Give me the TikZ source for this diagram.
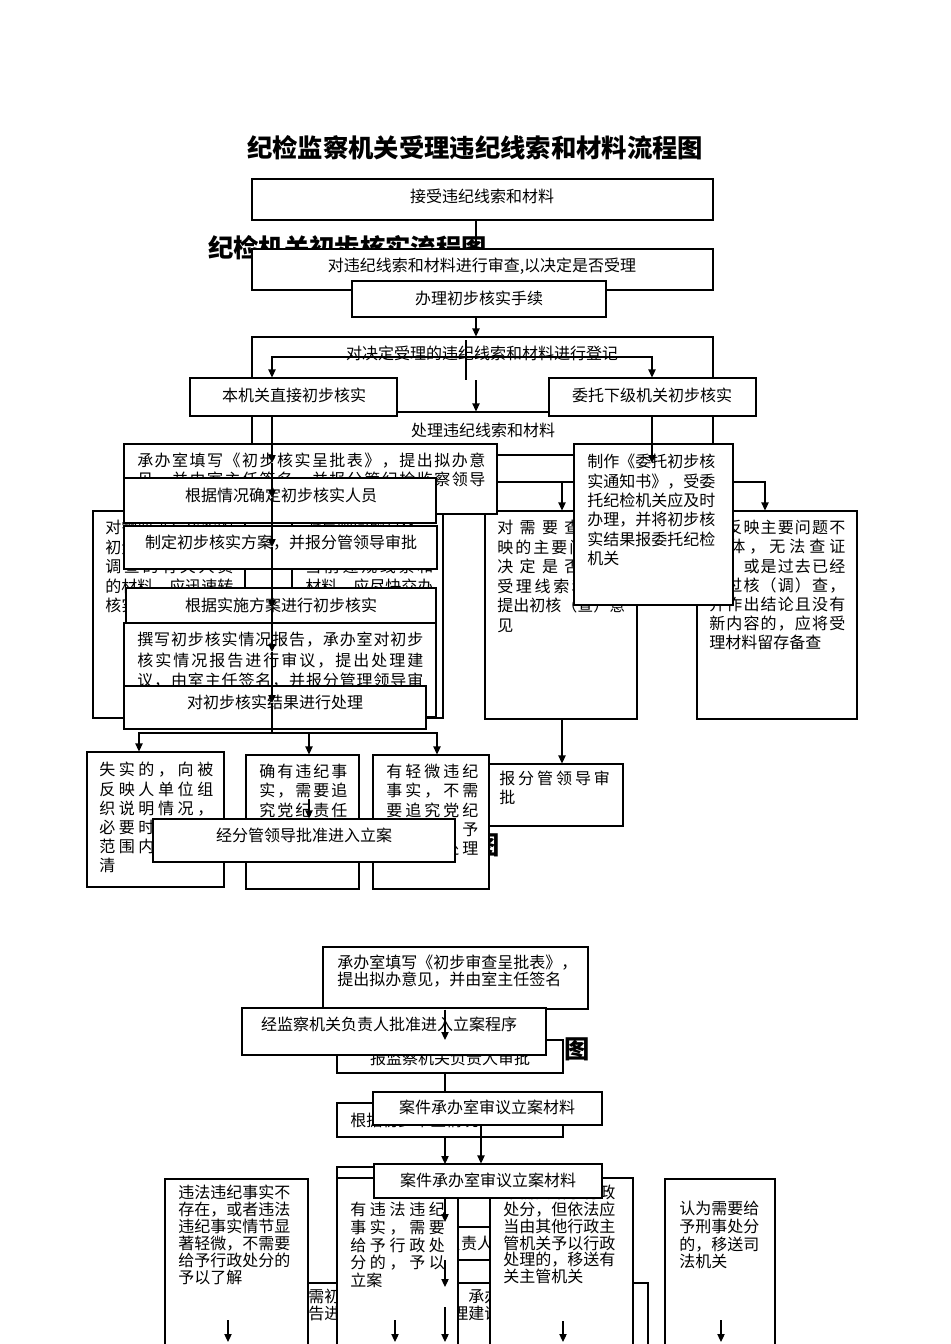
\documentclass[tikz,border=0pt]{standalone}
\usepackage{fontspec}
\setmainfont{Noto Sans CJK SC}
\usetikzlibrary{arrows.meta,fit}
\newcommand\JL[2]{\hbox to #1{\JLa#2\relax}}
\def\JLa#1{#1\JLb}
\def\JLb#1{\ifx\relax#1\else\hfil#1\expandafter\JLb\fi}
\tikzset{
  bx/.style={draw, fill=white, line width=0.8pt, inner sep=0pt},
  tx/.style={inner sep=0pt, font=\fontsize{12}{14.5}\selectfont, align=left},
  ttl/.style={inner sep=0pt, font=\fontsize{19}{19}\selectfont\bfseries},
  ln/.style={line width=0.8pt},
  arr/.style={line width=0.8pt, -{Triangle[length=6pt,width=5.5pt]}}
}
\begin{document}
\begin{tikzpicture}[x=0.75pt,y=-0.75pt]
\useasboundingbox (0,0) rectangle (950,1344);
\clip (0,0) rectangle (950,1344);
\fill[white] (0,0) rectangle (950,1344);
% helper x coordinates
\coordinate (x139) at (139,0); \coordinate (x272) at (272,0);
\coordinate (x309) at (309,0); \coordinate (x437) at (437,0);
\coordinate (x445) at (445,0); \coordinate (x476) at (476,0);
\coordinate (x481) at (481,0); \coordinate (x562) at (562,0);
\coordinate (x652) at (652,0); \coordinate (x765) at (765,0);
% titles
\node[ttl] (t1) at (475,148) {纪检监察机关受理违纪线索和材料流程图};
\node[ttl, anchor=west] (t2) at (208,248) {纪检机关初步核实流程图};
% top chain
\node[bx, fit={(252,179)(713,220)}] (b1) {};
\node[tx] (b1t) at (482,196) {接受违纪线索和材料};
\node[bx, fit={(252,249)(713,290)}] (b2) {};
\node[tx] (b2t) at (482,266) {对违纪线索和材料进行审查,以决定是否受理};
\draw[ln] (b1.south -| x476) -- (b2.north -| x476);
\node[bx, fit={(352,281)(606,317)}] (b3) {};
\node[tx] (b3t) at (479,298) {办理初步核实手续};
\node[bx, fit={(252,337)(713,412)}] (b4) {};
\node[tx] (b4t) at (482,353) {对决定受理的违纪线索和材料进行登记};
\node[bx, fit={(252,412)(713,455)}] (b5) {};
\node[tx] (b5t) at (483,430) {处理违纪线索和材料};
\draw[arr] (b3.south -| x476) -- (b4.north -| x476);
\node[bx, fit={(190,378)(397,416)}] (b6) {};
\node[tx] (b6t) at (294,395) {本机关直接初步核实};
\node[bx, fit={(549,378)(756,416)}] (b7) {};
\node[tx] (b7t) at (652,395) {委托下级机关初步核实};
\coordinate (j0) at (466,340); \coordinate (j1) at (466,357);
\coordinate (j2) at (466,380); \coordinate (j3) at (476,380);
\draw[ln] (j0) -- (j2);
\draw[arr] (j1) -| (x272 |- b6.north);
\draw[arr] (j1) -| (x652 |- b7.north);
\draw[arr] (j3) -- (x476 |- b5.north);
% big background boxes
\node[bx, fit={(93,511)(245,718)}] (l1) {};
\node[tx, anchor=north west, font=\fontsize{12}{14.6}\selectfont] (l1t) at (105,520)
  {\JL{96pt}{对需要进行核实的}\\\JL{96pt}{初步核实问题，须}\\\JL{96pt}{调查的有关人员}\\\JL{96pt}{的材料，应迅速转}\\核实};
\node[bx, fit={(292,512)(443,718)}] (l2) {};
\node[tx, anchor=north west, font=\fontsize{12}{14.6}\selectfont] (l2t) at (305,520)
  {\JL{96pt}{对反映问题具体，}\\\JL{96pt}{需要初步核实的}\\\JL{96pt}{当前违规线索和}\\\JL{96pt}{材料，应尽快交办}\\理};
\node[bx, fit={(485,511)(637,719)}] (bn) {};
\node[tx, anchor=north west, font=\fontsize{12}{14.6}\selectfont] (bnt) at (497,520)
  {\JL{96pt}{对需要查证反}\\\JL{93pt}{映的主要问题，}\\\JL{96pt}{决定是否立案}\\\JL{96pt}{受理线索和材料}\\\JL{96pt}{提出初核（查）意}\\见};
\node[bx, fit={(697,511)(857,719)}] (bf) {};
\node[tx, anchor=north west, font=\fontsize{12}{14.4}\selectfont] (bft) at (709,520)
  {\JL{102pt}{对反映主要问题不}\\\JL{102pt}{具体，无法查证}\\\JL{102pt}{的，或是过去已经}\\\JL{102pt}{经过核（调）查，}\\\JL{102pt}{并作出结论且没有}\\\JL{102pt}{新内容的，应将受}\\理材料留存备查};
\coordinate (j4) at (497,482);
\draw[arr] (j4) -| (x562 |- bn.north);
\draw[arr] (j4) -| (x765 |- bf.north);
% left chain
\node[bx, fit={(124,444)(497,514)}] (bc) {};
\node[tx, anchor=north west, font=\fontsize{12}{14.25}\selectfont] (bct) at (137,453)
  {\JL{261pt}{承办室填写《初步核实呈批表》，提出拟办意}\\\JL{261pt}{见，并由室主任签名，并报分管纪检监察领导}};
\node[bx, fit={(124,478)(436,523)}] (bg) {};
\node[tx] (bgt) at (281,495) {根据情况确定初步核实人员};
\node[bx, fit={(124,526)(437,569)}] (bd) {};
\node[tx] (bdt) at (281,543) {制定初步核实方案，并报分管领导审批};
\node[bx, fit={(126,588)(436,623)}] (bs) {};
\node[tx] (bst) at (281,605) {根据实施方案进行初步核实};
\node[bx, fit={(124,623)(436,717)}] (bw) {};
\node[tx, anchor=north west, font=\fontsize{12}{15.4}\selectfont] (bwt) at (137,632)
  {\JL{214.5pt}{撰写初步核实情况报告，承办室对初步}\\\JL{214.5pt}{核实情况报告进行审议，提出处理建}\\\JL{214.5pt}{议，由室主任签名，并报分管理领导审}\\批};
\node[bx, fit={(124,686)(426,729)}] (br) {};
\node[tx] (brt) at (275,702) {对初步核实结果进行处理};
\coordinate (c1) at (272,463); \coordinate (c2) at (272,498);
\coordinate (c3) at (272,547); \coordinate (c4) at (272,608);
\coordinate (c5) at (272,652); \coordinate (c6) at (272,703);
\coordinate (j5) at (272,733);
\draw[arr] (b6.south -| x272) -- (c1);
\draw[arr] (c1) -- (c2);
\draw[arr] (c2) -- (c3);
\draw[arr] (c3) -- (c4);
\draw[arr] (c4) -- (c5);
\draw[arr] (c5) -- (c6);
\draw[ln] (c6) -- (j5);
% entrusted
\node[bx, fit={(574,444)(733,605)}] (bz) {};
\node[tx, anchor=north west, font=\fontsize{12}{14.5}\selectfont] (bzt) at (587,454)
  {制作《委托初步核\\实通知书》，受委\\托纪检机关应及时\\办理，并将初步核\\实结果报委托纪检\\机关};
\coordinate (c7) at (652,463);
\draw[arr] (b7.south -| x652) -- (c7);
% results row
\node[ttl] (t3) at (487,845) {图};
\node[bx, fit={(87,752)(224,887)}] (r1) {};
\node[tx, anchor=north west, font=\fontsize{12}{14.4}\selectfont] (r1t) at (99,762)
  {\JL{85.5pt}{失实的，向被}\\\JL{85.5pt}{反映人单位组}\\\JL{85.5pt}{织说明情况，}\\\JL{85.5pt}{必要时在一定}\\\JL{85.5pt}{范围内予以澄}\\清};
\node[bx, fit={(246,755)(359,889)}] (r2) {};
\node[tx, anchor=north west, font=\fontsize{12}{14.4}\selectfont] (r2t) at (259,764)
  {\JL{66pt}{确有违纪事}\\\JL{66pt}{实，需要追}\\\JL{66pt}{究党纪责任}\\\JL{66pt}{的，予以立}\\案};
\node[bx, fit={(373,755)(489,889)}] (r3) {};
\node[tx, anchor=north west, font=\fontsize{12}{14.4}\selectfont] (r3t) at (386,764)
  {\JL{69pt}{有轻微违纪}\\\JL{69pt}{事实，不需}\\\JL{69pt}{要追究党纪}\\\JL{69pt}{责任的，予}\\\JL{69pt}{以组织处理}};
\node[bx, fit={(489,764)(623,826)}] (bb) {};
\node[tx, anchor=north west, font=\fontsize{12}{14.25}\selectfont] (bbt) at (499,771)
  {\JL{83pt}{报分管领导审}\\批};
\draw[arr] (j5) -| (x139 |- r1.north);
\draw[arr] (j5) -| (x309 |- r2.north);
\draw[arr] (j5) -| (x437 |- r3.north);
\draw[arr] (bn.south -| x562) -- (x562 |- bb.north);
\node[bx, fit={(153,819)(455,862)}] (bj) {};
\node[tx] (bjt) at (304,835) {经分管领导批准进入立案};
\coordinate (c8) at (309,799);
\draw[arr] (c8) -- (x309 |- bj.north);
% second part
\node[ttl] (t4) at (577,1049) {图};
\node[bx, fit={(337,1040)(563,1073)}] (bbs) {};
\node[tx] (bbst) at (450,1058) {报监察机关负责人审批};
\node[bx, fit={(323,947)(588,1009)}] (bcs) {};
\node[tx, anchor=north west, font=\fontsize{12}{12.75}\selectfont] (bcst) at (337,955)
  {承办室填写《初步审查呈批表》，\\提出拟办意见，并由室主任签名};
\node[bx, fit={(242,1008)(546,1055)}] (bjc) {};
\node[tx] (bjct) at (389,1024) {经监察机关负责人批准进入立案程序};
\coordinate (c9) at (445,1040);
\draw[arr] (bcs.south -| x445) -- (c9);
\node[bx, fit={(337,1103)(563,1137)}] (bgj) {};
\node[tx, anchor=west] (bgjt) at (350,1120) {根据初步审查情况};
\node[bx, fit={(373,1092)(602,1125)}] (ba1) {};
\node[tx] (ba1t) at (487,1107) {案件承办室审议立案材料};
\draw[ln] (bbs.south -| x445) -- (ba1.north -| x445);
% bottom boxes
\node[bx, fit={(337,1167)(600,1360)}] (bo) {};
\node[bx, fit={(295,1283)(648,1360)}] (bh) {};
\node[tx, anchor=north west, font=\fontsize{12}{11.25}\selectfont] (bht) at (308,1289)
  {需初步审查线索材料，承办室\\告进行审查，提出处理建议};
\node[bx, fit={(370,1227)(520,1260)}] (bs1) {};
\node[tx] (bs1t) at (445,1243) {报监察机关负责人审批};
\node[bx, fit={(165,1179)(308,1360)}] (bl) {};
\node[tx, anchor=north west, font=\fontsize{12}{12.75}\selectfont] (blt) at (178,1185)
  {违法违纪事实不\\存在，或者违法\\违纪事实情节显\\著轻微，不需要\\给予行政处分的\\予以了解};
\node[bx, fit={(337,1178)(458,1360)}] (bv) {};
\node[tx, anchor=north west, font=\fontsize{12}{13.3}\selectfont] (bvt) at (350,1202)
  {\JL{71pt}{有违法违纪}\\\JL{71pt}{事实，需要}\\\JL{71pt}{给予行政处}\\\JL{71pt}{分的，予以}\\立案};
\node[bx, fit={(490,1178)(633,1360)}] (bx) {};
\node[tx, anchor=north west, font=\fontsize{12}{12.6}\selectfont] (bxt) at (503,1185)
  {不需要给予行政\\处分，但依法应\\当由其他行政主\\管机关予以行政\\处理的，移送有\\关主管机关};
\node[bx, fit={(665,1179)(775,1360)}] (bk) {};
\node[tx, anchor=north west, font=\fontsize{12}{13.3}\selectfont] (bkt) at (679,1201)
  {认为需要给\\予刑事处分\\的，移送司\\法机关};
\draw[arr] (bgj.south -| x445) -- (x445 |- 0,1164);
\node[bx, fit={(374,1164)(602,1198)}] (ba2) {};
\node[tx] (ba2t) at (488,1180) {案件承办室审议立案材料};
\draw[arr] (ba1.south -| x481) -- (ba2.north -| x481);
\coordinate (d1) at (445,1222); \coordinate (d2) at (445,1260);
\coordinate (d3) at (445,1287); \coordinate (d4) at (445,1307);
\coordinate (d5) at (445,1342);
\draw[arr] (ba2.south -| x445) -- (d1);
\draw[arr] (d2) -- (d3);
\draw[arr] (d4) -- (d5);
\coordinate (e1s) at (228,1320); \coordinate (e1) at (228,1342);
\coordinate (e2s) at (395,1320); \coordinate (e2) at (395,1342);
\coordinate (e3s) at (563,1321); \coordinate (e3) at (563,1342);
\coordinate (e4s) at (721,1320); \coordinate (e4) at (721,1342);
\draw[arr] (e1s) -- (e1);
\draw[arr] (e2s) -- (e2);
\draw[arr] (e3s) -- (e3);
\draw[arr] (e4s) -- (e4);
\end{tikzpicture}
\end{document}
